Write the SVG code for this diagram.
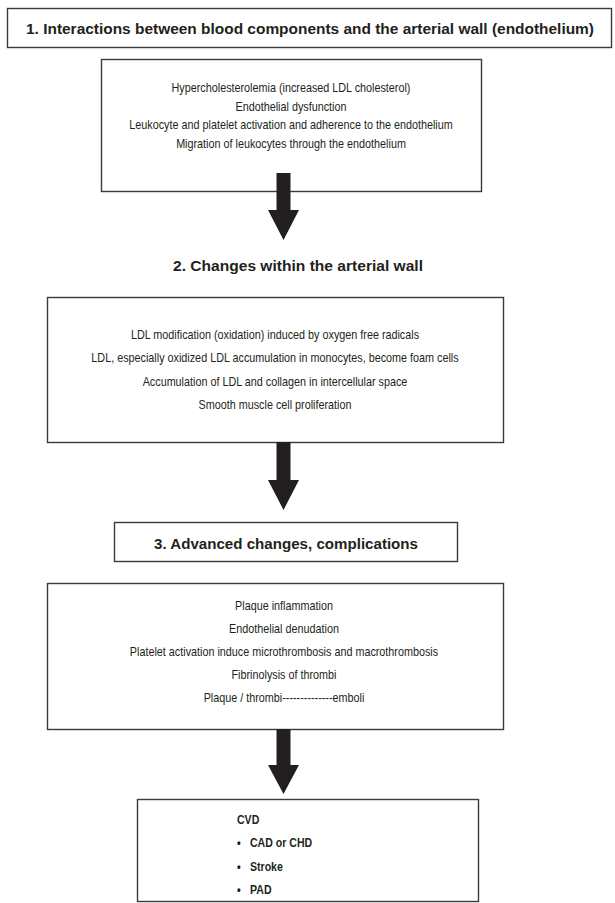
<svg xmlns="http://www.w3.org/2000/svg" width="615" height="903" viewBox="0 0 615 903">
<style>
.box{fill:#fff;stroke:#3a3a3a;stroke-width:1.4}
.t{font-family:"Liberation Sans",Arial,sans-serif;font-size:12px;fill:#231f20;text-anchor:middle}
.h{font-family:"Liberation Sans",Arial,sans-serif;font-size:15.5px;font-weight:bold;fill:#231f20;text-anchor:middle}
.b{font-family:"Liberation Sans",Arial,sans-serif;font-size:12px;font-weight:bold;fill:#231f20}
.arrow{fill:#231f20}
</style>
<rect width="615" height="903" fill="#fff"/>
<g id="stage1">
<rect class="box" x="7.5" y="8.5" width="604" height="39"/>
<text class="h" x="310" y="34" textLength="568" lengthAdjust="spacingAndGlyphs">1. Interactions between blood components and the arterial wall (endothelium)</text>
</g>
<g id="stage1-details">
<rect class="box" x="101.5" y="59.5" width="380" height="132"/>
<text class="t" transform="translate(291,92) scale(0.9,1)">Hypercholesterolemia (increased LDL cholesterol)</text>
<text class="t" transform="translate(291,110.5) scale(0.9,1)">Endothelial dysfunction</text>
<text class="t" transform="translate(291,129) scale(0.9,1)">Leukocyte and platelet activation and adherence to the endothelium</text>
<text class="t" transform="translate(291,147.5) scale(0.9,1)">Migration of leukocytes through the endothelium</text>
</g>
<g id="stage2">
<text class="h" x="298" y="271" textLength="250" lengthAdjust="spacingAndGlyphs">2. Changes within the arterial wall</text>
</g>
<g id="stage2-details">
<rect class="box" x="47.5" y="297.5" width="456" height="145"/>
<text class="t" transform="translate(275,339) scale(0.9,1)">LDL modification (oxidation) induced by oxygen free radicals</text>
<text class="t" transform="translate(275,362) scale(0.9,1)">LDL, especially oxidized LDL accumulation in monocytes, become foam cells</text>
<text class="t" transform="translate(275,386) scale(0.9,1)">Accumulation of LDL and collagen in intercellular space</text>
<text class="t" transform="translate(275,409) scale(0.9,1)">Smooth muscle cell proliferation</text>
</g>
<g id="stage3">
<rect class="box" x="114.5" y="522.5" width="343" height="39"/>
<text class="h" x="286" y="548.5" textLength="264" lengthAdjust="spacingAndGlyphs">3. Advanced changes, complications</text>
</g>
<g id="stage3-details">
<rect class="box" x="47.5" y="583.5" width="456" height="146"/>
<text class="t" transform="translate(284,610) scale(0.9,1)">Plaque inflammation</text>
<text class="t" transform="translate(284,633) scale(0.9,1)">Endothelial denudation</text>
<text class="t" transform="translate(284,656) scale(0.9,1)">Platelet activation induce microthrombosis and macrothrombosis</text>
<text class="t" transform="translate(284,679) scale(0.9,1)">Fibrinolysis of thrombi</text>
<text class="t" transform="translate(284,702) scale(0.9,1)">Plaque / thrombi--------------emboli</text>
</g>
<g id="outcome">
<rect class="box" x="137.5" y="799.5" width="341" height="102"/>
<text class="b" transform="translate(237,824) scale(0.88,1)">CVD</text>
<text class="b" transform="translate(237,847) scale(0.88,1)">•</text><text class="b" transform="translate(250,847) scale(0.88,1)">CAD or CHD</text>
<text class="b" transform="translate(237,871) scale(0.88,1)">•</text><text class="b" transform="translate(250,871) scale(0.88,1)">Stroke</text>
<text class="b" transform="translate(237,894) scale(0.88,1)">•</text><text class="b" transform="translate(250,894) scale(0.88,1)">PAD</text>
</g>
<g id="connectors">
<polygon class="arrow" points="276.5,173 290.5,173 290.5,210 299,210 283.5,240 268,210 276.5,210"/>
<polygon class="arrow" points="276.5,442 290.5,442 290.5,480 299,480 283.5,510 268,480 276.5,480"/>
<polygon class="arrow" points="276.5,729 290.5,729 290.5,765 299,765 283.5,794 268,765 276.5,765"/>
</g>
</svg>
